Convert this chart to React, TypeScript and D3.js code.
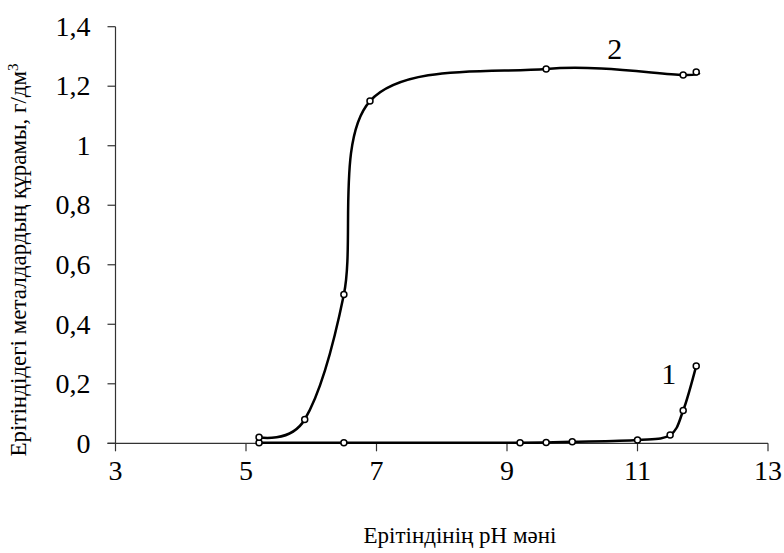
import React from "react";
import * as d3 from "d3";

// pH values and metal content (g/dm3)
const phLow = [5.2, 6.5, 9.2, 9.6, 10.0, 11.0, 11.5, 11.7, 11.9];
const contentLow = [0.002, 0.002, 0.002, 0.003, 0.005, 0.011, 0.028, 0.11, 0.26];

const phHigh = [5.2, 5.9, 6.5, 6.9, 9.6, 11.7, 11.9];
const contentHigh = [0.02, 0.08, 0.5, 1.15, 1.258, 1.238, 1.248];

const xTicks = [3, 5, 7, 9, 11, 13];
const yTicks = [0, 0.2, 0.4, 0.6, 0.8, 1, 1.2, 1.4];

const seriesLabels = ["1", "2"];

const font = '"Liberation Serif", "Times New Roman", Times, serif';

const x = d3.scaleLinear().domain([3, 13]).range([115.5, 768]);
const y = d3.scaleLinear().domain([0, 1.4]).range([443.3, 26.7]);

const fmt = (d) => String(d).replace(".", ",");

const line = d3
  .line()
  .x((d) => x(d[0]))
  .y((d) => y(d[1]))
  .curve(d3.curveCardinal.tension(0));

const series = [d3.zip(phLow, contentLow), d3.zip(phHigh, contentHigh)];

const App = () => {
  const axisColor = "#333";
  return (
    <svg
      width={784}
      height={553}
      fontFamily={font}
      style={{ position: "absolute", left: 0, top: 0, background: "#fff", fontFamily: font }}
    >
      {/* x axis */}
      <line x1={x(3) - 8} x2={x(13)} y1={y(0)} y2={y(0)} stroke={axisColor} strokeWidth={1.2} />
      {xTicks.map((t) => (
        <g key={t} transform={`translate(${x(t)},${y(0)})`}>
          <line y2={8} stroke={axisColor} strokeWidth={1.2} />
          <text y={37} textAnchor="middle" style={{ fontFamily: font, fontSize: "28px" }}>
            {fmt(t)}
          </text>
        </g>
      ))}

      {/* y axis */}
      <line x1={x(3)} x2={x(3)} y1={y(1.4)} y2={y(0)} stroke={axisColor} strokeWidth={1.2} />
      {yTicks.map((t) => (
        <g key={t} transform={`translate(${x(3)},${y(t)})`}>
          <line x2={-8} stroke={axisColor} strokeWidth={1.2} />
          <text
            x={-25}
            dy="0.33em"
            textAnchor="end"
            style={{ fontFamily: font, fontSize: "28px" }}
          >
            {fmt(t)}
          </text>
        </g>
      ))}

      {series.map((pts, i) => (
        <path key={i} d={line(pts)} fill="none" stroke="#000" strokeWidth={2.5} />
      ))}

      {series.map((pts, i) => (
        <g key={i}>
          {pts.map((d, j) => (
            <circle
              key={j}
              cx={x(d[0])}
              cy={y(d[1])}
              r={3}
              fill="#fff"
              stroke="#000"
              strokeWidth={1.5}
            />
          ))}
        </g>
      ))}

      {/* curve numbers */}
      <text
        x={x(11.48)}
        y={y(0.2)}
        textAnchor="middle"
        style={{ fontFamily: font, fontSize: "30px" }}
      >
        {seriesLabels[0]}
      </text>
      <text
        x={x(10.65)}
        y={y(1.29)}
        textAnchor="middle"
        style={{ fontFamily: font, fontSize: "30px" }}
      >
        {seriesLabels[1]}
      </text>

      {/* axis titles */}
      <text
        x={460}
        y={543}
        textAnchor="middle"
        style={{ fontFamily: font, fontSize: "23px" }}
      >
        Ерітіндінің pH мәні
      </text>
      <text
        transform="translate(26,260) rotate(-90)"
        textAnchor="middle"
        style={{ fontFamily: font, fontSize: "23px" }}
      >
        Ерітіндідегі металдардың құрамы, г/дм
        <tspan baselineShift="super" style={{ fontSize: "15px" }}>
          3
        </tspan>
      </text>
    </svg>
  );
};

export default App;
